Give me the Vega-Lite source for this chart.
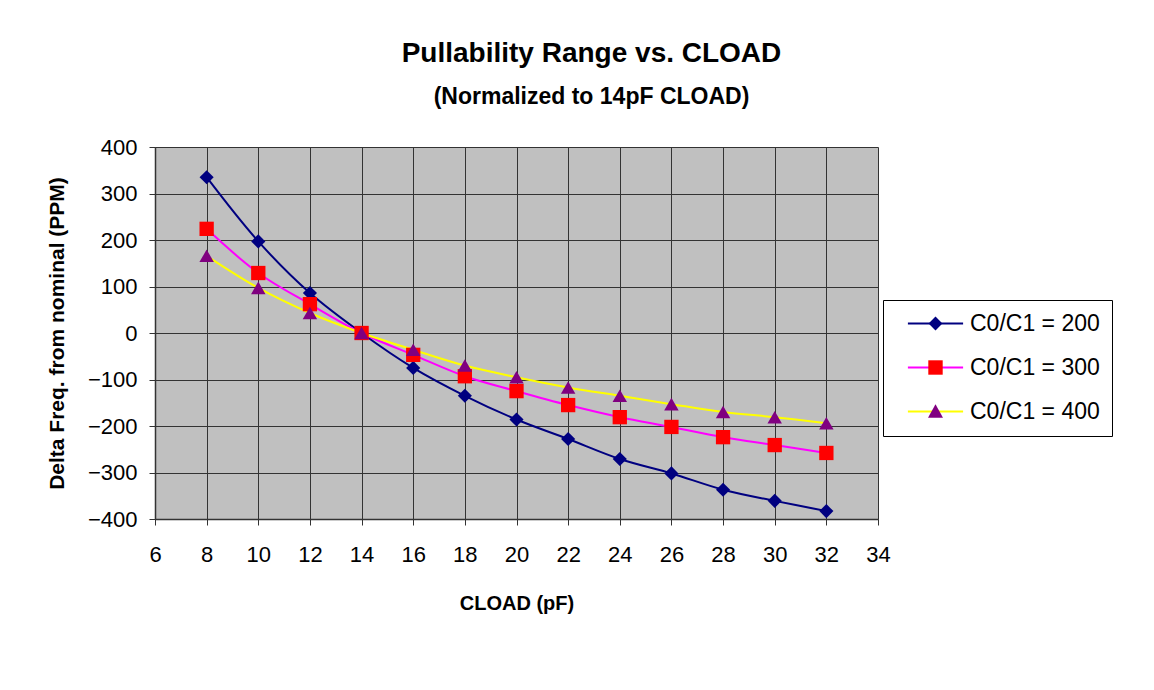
{
  "$schema": "https://vega.github.io/schema/vega-lite/v6.json",
  "width": 723,
  "height": 372,
  "autosize": {"type": "none"},
  "padding": {"left": 155, "top": 147, "right": 276, "bottom": 171},
  "background": "white",
  "config": {
    "font": "Liberation Sans",
    "view": {"fill": "#C0C0C0", "stroke": null},
    "axis": {
      "labelFont": "Liberation Sans",
      "labelFontSize": 22,
      "labelColor": "black",
      "titleFont": "Liberation Sans",
      "titleFontWeight": "bold",
      "titleColor": "black",
      "gridColor": "#333333",
      "gridWidth": 1,
      "gridOpacity": 1,
      "domainColor": "#333333",
      "domainWidth": 1.5,
      "tickColor": "#333333",
      "tickSize": 6,
      "tickWidth": 1
    }
  },
  "title": {
    "text": "Pullability Range vs. CLOAD",
    "subtitle": "(Normalized to 14pF CLOAD)",
    "font": "Liberation Sans",
    "fontSize": 28,
    "fontWeight": "bold",
    "color": "black",
    "subtitleFont": "Liberation Sans",
    "subtitleFontSize": 23,
    "subtitleFontWeight": "bold",
    "subtitleColor": "black",
    "subtitlePadding": 18,
    "anchor": "middle",
    "frame": "group",
    "dx": 75,
    "offset": 27
  },
  "data": {
    "values": [
      {"c": 8, "s": "C0/C1 = 200", "v": 335},
      {"c": 10, "s": "C0/C1 = 200", "v": 197},
      {"c": 12, "s": "C0/C1 = 200", "v": 86},
      {"c": 14, "s": "C0/C1 = 200", "v": 0},
      {"c": 16, "s": "C0/C1 = 200", "v": -75},
      {"c": 18, "s": "C0/C1 = 200", "v": -135},
      {"c": 20, "s": "C0/C1 = 200", "v": -186},
      {"c": 22, "s": "C0/C1 = 200", "v": -228},
      {"c": 24, "s": "C0/C1 = 200", "v": -271},
      {"c": 26, "s": "C0/C1 = 200", "v": -302},
      {"c": 28, "s": "C0/C1 = 200", "v": -337},
      {"c": 30, "s": "C0/C1 = 200", "v": -361},
      {"c": 32, "s": "C0/C1 = 200", "v": -383},
      {"c": 8, "s": "C0/C1 = 300", "v": 224},
      {"c": 10, "s": "C0/C1 = 300", "v": 129},
      {"c": 12, "s": "C0/C1 = 300", "v": 62},
      {"c": 14, "s": "C0/C1 = 300", "v": 0},
      {"c": 16, "s": "C0/C1 = 300", "v": -47},
      {"c": 18, "s": "C0/C1 = 300", "v": -93},
      {"c": 20, "s": "C0/C1 = 300", "v": -125},
      {"c": 22, "s": "C0/C1 = 300", "v": -155},
      {"c": 24, "s": "C0/C1 = 300", "v": -181},
      {"c": 26, "s": "C0/C1 = 300", "v": -202},
      {"c": 28, "s": "C0/C1 = 300", "v": -224},
      {"c": 30, "s": "C0/C1 = 300", "v": -241},
      {"c": 32, "s": "C0/C1 = 300", "v": -258},
      {"c": 8, "s": "C0/C1 = 400", "v": 166},
      {"c": 10, "s": "C0/C1 = 400", "v": 97},
      {"c": 12, "s": "C0/C1 = 400", "v": 43},
      {"c": 14, "s": "C0/C1 = 400", "v": 0},
      {"c": 16, "s": "C0/C1 = 400", "v": -36},
      {"c": 18, "s": "C0/C1 = 400", "v": -70},
      {"c": 20, "s": "C0/C1 = 400", "v": -95},
      {"c": 22, "s": "C0/C1 = 400", "v": -117},
      {"c": 24, "s": "C0/C1 = 400", "v": -135},
      {"c": 26, "s": "C0/C1 = 400", "v": -153},
      {"c": 28, "s": "C0/C1 = 400", "v": -170},
      {"c": 30, "s": "C0/C1 = 400", "v": -181},
      {"c": 32, "s": "C0/C1 = 400", "v": -194}
    ]
  },
  "encoding": {
    "x": {
      "field": "c",
      "type": "quantitative",
      "scale": {"domain": [6, 34], "nice": false, "zero": false},
      "axis": {
        "values": [6, 8, 10, 12, 14, 16, 18, 20, 22, 24, 26, 28, 30, 32, 34],
        "title": "CLOAD (pF)",
        "titleFontSize": 20,
        "labelPadding": 19,
        "titlePadding": 28,
        "labelFlush": false,
        "labelOverlap": false
      }
    },
    "y": {
      "field": "v",
      "type": "quantitative",
      "scale": {"domain": [-400, 400], "nice": false},
      "axis": {
        "values": [-400, -300, -200, -100, 0, 100, 200, 300, 400],
        "title": "Delta Freq. from nominal (PPM)",
        "titleFontSize": 21,
        "labelPadding": 12,
        "titlePadding": 20,
        "labelFlush": false,
        "labelOverlap": false
      }
    }
  },
  "layer": [
    {
      "mark": {"type": "line", "interpolate": "catmull-rom", "strokeWidth": 2},
      "encoding": {
        "stroke": {
          "field": "s",
          "type": "nominal",
          "scale": {"domain": ["C0/C1 = 200", "C0/C1 = 300", "C0/C1 = 400"], "range": ["#000080", "#FF00FF", "#FFFF00"]},
          "legend": null
        }
      }
    },
    {
      "mark": {"type": "point", "filled": true, "opacity": 1, "strokeWidth": 0},
      "encoding": {
        "fill": {
          "field": "s",
          "type": "nominal",
          "scale": {"domain": ["C0/C1 = 200", "C0/C1 = 300", "C0/C1 = 400"], "range": ["#000080", "#FF0000", "#800080"]},
          "legend": null
        },
        "shape": {
          "field": "s",
          "type": "nominal",
          "scale": {"domain": ["C0/C1 = 200", "C0/C1 = 300", "C0/C1 = 400"], "range": ["M0,-1L1,0L0,1L-1,0Z", "square", "triangle-up"]},
          "legend": null
        },
        "size": {
          "field": "s",
          "type": "nominal",
          "scale": {"domain": ["C0/C1 = 200", "C0/C1 = 300", "C0/C1 = 400"], "range": [200, 210, 230]},
          "legend": null
        }
      }
    },
    {
      "mark": {"type": "point", "filled": false, "opacity": 0},
      "encoding": {
        "stroke": {
          "field": "s",
          "type": "nominal",
          "scale": {"domain": ["C0/C1 = 200", "C0/C1 = 300", "C0/C1 = 400"], "range": ["#000080", "#FF00FF", "#FFFF00"]},
          "legend": {
            "title": null, "orient": "none", "legendX": 728, "legendY": 153,
            "padding": 12, "symbolOffset": 29, "labelOffset": 23, "rowPadding": 20,
            "symbolSize": 144, "symbolStrokeWidth": 2, "symbolOpacity": 1,
            "labelFont": "Liberation Sans", "labelFontSize": 23, "labelColor": "black",
            "strokeColor": "black"
          }
        },
        "shape": {
          "field": "s",
          "type": "nominal",
          "scale": {"domain": ["C0/C1 = 200", "C0/C1 = 300", "C0/C1 = 400"], "range": ["M-4.6,0L4.6,0", "M-4.6,0L4.6,0", "M-4.6,0L4.6,0"]},
          "legend": {
            "title": null, "orient": "none", "legendX": 728, "legendY": 153,
            "padding": 12, "symbolOffset": 29, "labelOffset": 23, "rowPadding": 20,
            "symbolSize": 144, "symbolStrokeWidth": 2, "symbolOpacity": 1,
            "labelFont": "Liberation Sans", "labelFontSize": 23, "labelColor": "black",
            "strokeColor": "black"
          }
        }
      }
    },
    {
      "mark": {"type": "point", "filled": true, "opacity": 0, "strokeWidth": 0},
      "encoding": {
        "fill": {
          "field": "s",
          "type": "nominal",
          "scale": {"domain": ["C0/C1 = 200", "C0/C1 = 300", "C0/C1 = 400"], "range": ["#000080", "#FF0000", "#800080"]},
          "legend": {
            "title": null, "orient": "none", "legendX": 728, "legendY": 153,
            "padding": 12, "symbolOffset": 29, "labelOffset": 23, "rowPadding": 20,
            "symbolSize": 144, "symbolStrokeWidth": 0, "symbolOpacity": 1,
            "labelFont": "Liberation Sans", "labelFontSize": 23, "labelOpacity": 0
          }
        },
        "shape": {
          "field": "s",
          "type": "nominal",
          "scale": {"domain": ["C0/C1 = 200", "C0/C1 = 300", "C0/C1 = 400"], "range": ["M0,-1.15L1.15,0L0,1.15L-1.15,0Z", "M-1.2,-1.2L1.2,-1.2L1.2,1.2L-1.2,1.2Z", "M0,-1.2L1.25,1.05L-1.25,1.05Z"]},
          "legend": {
            "title": null, "orient": "none", "legendX": 728, "legendY": 153,
            "padding": 12, "symbolOffset": 29, "labelOffset": 23, "rowPadding": 20,
            "symbolSize": 144, "symbolStrokeWidth": 0, "symbolOpacity": 1,
            "labelFont": "Liberation Sans", "labelFontSize": 23, "labelOpacity": 0
          }
        }
      }
    }
  ],
  "resolve": {
    "scale": {"shape": "independent", "fill": "independent", "stroke": "independent", "size": "independent"},
    "legend": {"shape": "independent", "fill": "independent", "stroke": "independent"}
  }
}
